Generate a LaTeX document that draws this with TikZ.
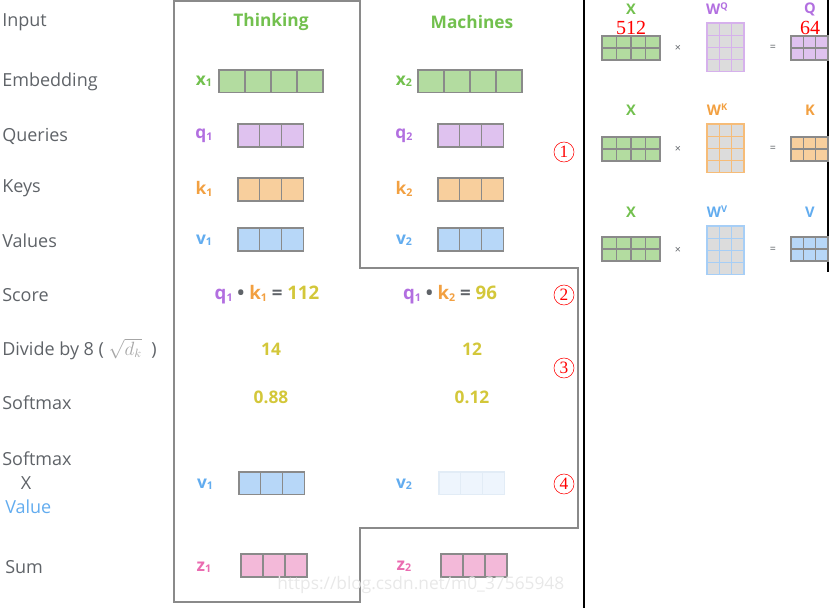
\documentclass[tikz,border=0pt]{standalone}
\usepackage{fontspec}
\setmainfont{Open Sans}
\newfontfamily\numfont{Liberation Serif}
\usetikzlibrary{positioning}
\definecolor{txtgray}{HTML}{5F6368}
\definecolor{wordgreen}{HTML}{72C04E}
\definecolor{xfill}{HTML}{B3DCA0}
\definecolor{qfill}{HTML}{DFC2EF}
\definecolor{qtext}{HTML}{B26FE0}
\definecolor{kfill}{HTML}{F8CF9D}
\definecolor{ktext}{HTML}{F2A041}
\definecolor{vfill}{HTML}{B7D7F8}
\definecolor{vtext}{HTML}{62ACEF}
\definecolor{zfill}{HTML}{F3B9D9}
\definecolor{ztext}{HTML}{EA6CB1}
\definecolor{score}{HTML}{D3C73A}
\definecolor{cellgray}{HTML}{DCDCDC}
\definecolor{linegray}{HTML}{8A8A8A}
\definecolor{vfaint}{HTML}{EEF5FD}
\definecolor{vfaintline}{HTML}{E2ECF6}
\newcommand{\sub}[1]{\raisebox{-0.15ex}{\fontsize{8}{8}\selectfont#1}}
\newcommand{\sups}[1]{\raisebox{0.6ex}{\fontsize{7}{7}\selectfont#1}}
% x0, y0, columns, rows, cell width, cell height, fill, border
\newcommand{\cellgrid}[8]{%
  \foreach \i in {1,...,#3}{\foreach \j in {1,...,#4}{
    \draw[fill=#7,draw=#8,line width=0.9pt] ({#1+(\i-1)*#5},{#2+(\j-1)*#6}) rectangle ++(#5,#6);}}}

\begin{document}
\begin{tikzpicture}[x=0.75pt,y=-0.75pt,
    lab/.style={anchor=west,inner sep=0pt,text=txtgray,font=\fontsize{13.5}{15}\selectfont},
    head/.style={text=wordgreen,font=\bfseries\fontsize{13}{15}\selectfont},
    vlab/.style={font=\bfseries\fontsize{13}{15}\selectfont},
    num/.style={text=score,font=\bfseries\fontsize{13}{15}\selectfont},
    circnum/.style={circle,draw=red,text=red,line width=0.4pt,inner sep=0pt,minimum size=15pt,font=\numfont\fontsize{13}{13}\selectfont},
    small/.style={font=\bfseries\fontsize{11}{12}\selectfont},
    op/.style={text=txtgray,font=\fontsize{8}{8}\selectfont},
    dimnum/.style={text=red,font=\numfont\fontsize{15}{15}\selectfont}]
  \useasboundingbox (0,0) rectangle (831,608);

  % outline of the two word columns
  \draw[linegray,line width=1.1pt] (174,1) -- (360,1) -- (360,268) -- (578,268) -- (578,528) -- (360,528) -- (360,602) -- (174,602) -- cycle;
  \draw[black,line width=0.9pt] (584,0) -- (584,608);
  \draw[black,line width=0.9pt] (828,0) -- (828,272);

  \node[lab] (input) at (2,22) {Input};
  \node[lab] (embedding) at (2,82) {Embedding};
  \node[lab] (queries) at (2,136) {Queries};
  \node[lab] (keys) at (2,188) {Keys};
  \node[lab] (values) at (2,241) {Values};
  \node[lab] (score) at (2,295) {Score};
  \node[lab] (divide) at (2,349) {Divide by 8 ( {\color{gray!70}$\sqrt{d_k}$} \ )};
  \node[lab] (softmax) at (2,403) {Softmax};
  \node[lab] (softmaxb) at (2,459) {Softmax};
  \node[text=txtgray,font=\fontsize{13.5}{15}\selectfont] (times) at (26,483) {X};
  \node[lab,text=vtext] (value) at (5,507) {Value};
  \node[lab] (sum) at (5,567) {Sum};

  \node[head] (thinking) at (271,22) {Thinking};
  \node[head] (machines) at (472,22) {Machines};

  \node[vlab,text=wordgreen] (x1) at (204,81) {x\sub1};
  \node[vlab,text=wordgreen] (x2) at (404,81) {x\sub2};
  \cellgrid{219}{70}{4}{1}{26}{22.5}{xfill}{linegray}
  \cellgrid{418}{70}{4}{1}{26}{22.5}{xfill}{linegray}

  \node[vlab,text=qtext] (q1) at (204,136) {q\sub1};
  \node[vlab,text=qtext] (q2) at (404,136) {q\sub2};
  \cellgrid{238}{124}{3}{1}{21.7}{23}{qfill}{linegray}
  \cellgrid{438}{124}{3}{1}{21.7}{23}{qfill}{linegray}

  \node[vlab,text=ktext] (k1) at (204,189) {k\sub1};
  \node[vlab,text=ktext] (k2) at (404,189) {k\sub2};
  \cellgrid{238}{178}{3}{1}{21.7}{23}{kfill}{linegray}
  \cellgrid{438}{178}{3}{1}{21.7}{23}{kfill}{linegray}

  \node[vlab,text=vtext] (v1) at (204,240) {v\sub1};
  \node[vlab,text=vtext] (v2) at (404,240) {v\sub2};
  \cellgrid{238}{228}{3}{1}{21.7}{23}{vfill}{linegray}
  \cellgrid{438}{228}{3}{1}{21.7}{23}{vfill}{linegray}

  \node[vlab,font=\bfseries\fontsize{14}{15}\selectfont] (score1) at (267,295) {{\color{qtext}q\sub1} {\color{txtgray}\textbullet} {\color{ktext}k\sub1} {\color{txtgray}=} {\color{score}112}};
  \node[vlab,font=\bfseries\fontsize{14}{15}\selectfont] (score2) at (450,295) {{\color{qtext}q\sub1} {\color{txtgray}\textbullet} {\color{ktext}k\sub2} {\color{txtgray}=} {\color{score}96}};
  \node[num] (div1) at (271,349) {14};
  \node[num] (div2) at (472,349) {12};
  \node[num] (soft1) at (271,397) {0.88};
  \node[num] (soft2) at (472,397) {0.12};

  \node[vlab,text=vtext] (sv1) at (205,484) {v\sub1};
  \node[vlab,text=vtext] (sv2) at (404,484) {v\sub2};
  \cellgrid{239}{472}{3}{1}{21.7}{22.5}{vfill}{linegray}
  \cellgrid{439}{472}{3}{1}{21.7}{22.5}{vfaint}{vfaintline}

  \node[vlab,text=ztext] (z1) at (204,567) {z\sub1};
  \node[vlab,text=ztext] (z2) at (404,566) {z\sub2};
  \cellgrid{241}{554}{3}{1}{22}{23}{zfill}{linegray}
  \cellgrid{441}{554}{3}{1}{22}{23}{zfill}{linegray}

  \node[circnum] (step1) at (564,152) {1};
  \node[circnum] (step2) at (564,295) {2};
  \node[circnum] (step3) at (564,368) {3};
  \node[circnum] (step4) at (564,484) {4};

  % the weight matrices
  \node[small,text=wordgreen] (xq) at (631,9) {X};
  \node[dimnum] (dmodel) at (631,28) {512};
  \cellgrid{602}{36}{4}{2}{14.5}{12}{xfill}{linegray}
  \node[op] (mulq) at (678,48) {×};
  \node[small,text=qtext] (wq) at (717,9) {W\sups{Q}};
  \cellgrid{707}{23}{3}{4}{12.3}{12.2}{cellgray}{qfill!80!qtext}
  \node[op] (eqq) at (773,48) {=};
  \node[small,text=qtext] (qq) at (810,9) {Q};
  \node[dimnum] (dk) at (810,28) {64};
  \cellgrid{791}{36}{3}{2}{12.3}{12}{qfill}{linegray}

  \node[small,text=wordgreen] (xk) at (631,110) {X};
  \cellgrid{602}{137}{4}{2}{14.5}{12}{xfill}{linegray}
  \node[op] (mulk) at (678,149) {×};
  \node[small,text=ktext] (wk) at (717,110) {W\sups{K}};
  \cellgrid{707}{124}{3}{4}{12.3}{12.2}{cellgray}{kfill!60!ktext}
  \node[op] (eqk) at (773,149) {=};
  \node[small,text=ktext] (kk) at (810,110) {K};
  \cellgrid{791}{137}{3}{2}{12.3}{12}{kfill}{linegray}

  \node[small,text=wordgreen] (xv) at (631,212) {X};
  \cellgrid{602}{237}{4}{2}{14.5}{12}{xfill}{linegray}
  \node[op] (mulv) at (678,250) {×};
  \node[small,text=vtext] (wv) at (717,212) {W\sups{V}};
  \cellgrid{707}{226}{3}{4}{12.3}{12.2}{cellgray}{vfill!80!vtext}
  \node[op] (eqv) at (773,250) {=};
  \node[small,text=vtext] (vv) at (810,212) {V};
  \cellgrid{791}{237}{3}{2}{12.3}{12}{vfill}{linegray}

  \begin{scope}
    \clip (0,0) rectangle (584,608);
    \node[anchor=west,inner sep=0pt,text=gray!18,font=\fontsize{13}{13}\selectfont] (mark) at (277,585) {https://blog.csdn.net/m0\_37565948};
  \end{scope}
\end{tikzpicture}
\end{document}
